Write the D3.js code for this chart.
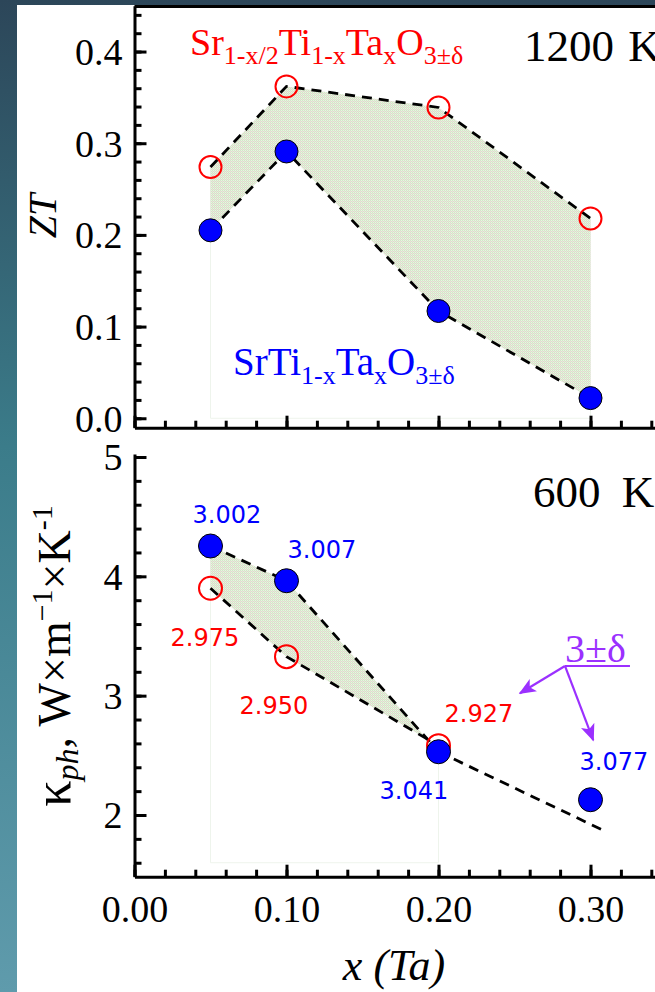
<!DOCTYPE html>
<html>
<head>
<meta charset="utf-8">
<script src="https://cdn.jsdelivr.net/npm/d3@7"></script>
<style>
  body { margin: 0; padding: 0; background: #fff; }
  svg { display: block; }
  .serif { font-family: "Liberation Serif", "Times New Roman", serif; }
  .sans { font-family: "DejaVu Sans", Verdana, sans-serif; }
</style>
</head>
<body>
<div id="chart"></div>
<script>
// ---- data ----
const xComp = [0.05, 0.10, 0.20, 0.30];           // Ta content x
const xTicks = [0, 0.1, 0.2, 0.3];
const xTickLabels = ["0.00", "0.10", "0.20", "0.30"];

// ZT at 1200 K
const ztDeficient = [0.274, 0.362, 0.339, 0.218];  // Sr1-x/2Ti1-xTaxO3 (red open)
const ztStoich = [0.205, 0.291, 0.117, 0.022];     // SrTi1-xTaxO3 (blue filled)
const ztTicks = [0, 0.1, 0.2, 0.3, 0.4];
const ztTickLabels = ["0.0", "0.1", "0.2", "0.3", "0.4"];

// kappa_ph at 600 K
const kDeficient = [3.900, 3.327, 2.581];          // x = 0.05, 0.10, 0.20
const kStoich = [4.254, 3.963, 2.530, 2.128];      // x = 0.05 .. 0.30
const kTicks = [2, 3, 4, 5];
const oxyDeficient = ["2.975", "2.950", "2.927"];
const oxyStoich = ["3.002", "3.007", "3.041", "3.077"];
const trendEnd = [0.308, 1.874];                   // dashed extension past x = 0.20

const W = 655, H = 992;
const svg = d3.select("#chart").append("svg")
    .attr("width", W)
    .attr("height", H);

const defs = svg.append("defs");

// dark photo-ish backdrop
const bg = defs.append("linearGradient").attr("id", "bg").attr("x1", 0).attr("y1", 0).attr("x2", 0).attr("y2", 1);
bg.append("stop").attr("offset", 0).attr("stop-color", "#2c4659");
bg.append("stop").attr("offset", 0.45).attr("stop-color", "#3b7c8a");
bg.append("stop").attr("offset", 1).attr("stop-color", "#5f9bac");
svg.append("rect").attr("width", W).attr("height", H).attr("fill", "url(#bg)");
svg.append("rect").attr("x", 17).attr("y", 5).attr("width", W - 17).attr("height", H - 5).attr("fill", "#fff");

// dithered green/pink fill
const pat = defs.append("pattern").attr("id", "dots")
    .attr("width", 2).attr("height", 2).attr("patternUnits", "userSpaceOnUse");
pat.append("rect").attr("width", 2).attr("height", 2).attr("fill", "#d2eac6");
pat.append("rect").attr("x", 1).attr("y", 0).attr("width", 1).attr("height", 1).attr("fill", "#e9f2e2");
pat.append("rect").attr("x", 0).attr("y", 1).attr("width", 1).attr("height", 1).attr("fill", "#f2d9e0");

// purple arrowhead
defs.append("marker").attr("id", "arrow")
    .attr("viewBox", "0 0 12 10").attr("refX", 11).attr("refY", 5)
    .attr("markerWidth", 8).attr("markerHeight", 6.5).attr("orient", "auto")
    .attr("markerUnits", "strokeWidth")
    .append("path").attr("d", "M0,0 L12,5 L0,10 L3,5 z").attr("fill", "#9b30ff");

// ---- scales ----
const x = d3.scaleLinear().domain([0, 0.35]).range([134.5, 666.5]);
const yZT = d3.scaleLinear().domain([-0.0103, 0.45]).range([427.7, 5.7]);
const yK = d3.scaleLinear().domain([1.483, 5.025]).range([876.7, 454]);

const AXW = 3;

function styleAxis(g) {
    g.selectAll(".domain").attr("stroke", "#000").attr("stroke-width", AXW);
    g.selectAll(".tick line").attr("stroke", "#000").attr("stroke-width", AXW);
    g.selectAll(".tick text")
        .attr("class", "serif")
        .attr("font-size", 38)
        .attr("fill", "#000");
}

function drawPanel(y, majorTicks, minorTicks, yFmt, bottomY, xLabels) {
    // minor ticks first
    svg.append("g")
        .attr("transform", `translate(${x(0)},0)`)
        .call(d3.axisLeft(y).tickValues(minorTicks).tickSize(-7).tickSizeOuter(0).tickFormat(""))
        .call(g => g.select(".domain").remove())
        .call(styleAxis);
    svg.append("g")
        .attr("transform", `translate(${x(0)},0)`)
        .call(d3.axisLeft(y).tickValues(majorTicks).tickSize(-12).tickSizeOuter(0).tickPadding(12).tickFormat(yFmt))
        .call(styleAxis)
        .call(g => g.selectAll(".tick text").attr("dy", "0.34em"));

    const xMinor = d3.range(0, 0.35, 0.02).map(v => +v.toFixed(2));
    svg.append("g")
        .attr("transform", `translate(0,${bottomY})`)
        .call(d3.axisBottom(x).tickValues(xMinor).tickSize(-7).tickSizeOuter(0).tickFormat(""))
        .call(g => g.select(".domain").remove())
        .call(styleAxis);
    svg.append("g")
        .attr("transform", `translate(0,${bottomY})`)
        .call(d3.axisBottom(x).tickValues(xTicks).tickSize(-12).tickSizeOuter(0).tickPadding(18)
            .tickFormat((d, i) => xLabels ? xLabels[i] : ""))
        .call(styleAxis)
        .call(g => g.selectAll(".tick text").attr("dy", "0.71em"));
}

// ---- top panel: ZT ----
const ztPts = (arr) => arr.map((v, i) => [x(xComp[i]), yZT(v)]);
const redTop = ztPts(ztDeficient), blueTop = ztPts(ztStoich);

// faint outline of the filled region down to baseline
svg.append("path")
    .attr("d", `M${x(0.05)},${yZT(ztDeficient[0])} V${yZT(0)} H${x(0.30)} V${yZT(ztDeficient[3])}`)
    .attr("fill", "none").attr("stroke", "#eef4ec").attr("stroke-width", 1);

svg.append("path")
    .attr("d", d3.line()(redTop.concat(blueTop.slice().reverse())) + "Z")
    .attr("fill", "url(#dots)");

const dash = "10,7";
const dashW = 2.8;
[redTop, blueTop].forEach(p => {
    svg.append("path").attr("d", d3.line()(p))
        .attr("fill", "none").attr("stroke", "#000").attr("stroke-width", dashW)
        .attr("stroke-dasharray", dash);
});

drawPanel(yZT, ztTicks, d3.range(0, 0.45, 0.02).map(v => +v.toFixed(2)),
    (d, i) => ztTickLabels[i], 427.7, null);
// top frame line
svg.append("line").attr("x1", x(0)).attr("x2", W).attr("y1", 6.5).attr("y2", 6.5)
    .attr("stroke", "#000").attr("stroke-width", AXW);

svg.selectAll(".redTop").data(redTop).join("circle")
    .attr("cx", d => d[0]).attr("cy", d => d[1]).attr("r", 11)
    .attr("fill", "none").attr("stroke", "#ff0000").attr("stroke-width", 2);
svg.selectAll(".blueTop").data(blueTop).join("circle")
    .attr("cx", d => d[0]).attr("cy", d => d[1]).attr("r", 11.5)
    .attr("fill", "#0000ff").attr("stroke", "#000").attr("stroke-width", 1);

// formula labels
function formula(parts, xPos, yPos, color, big, small) {
    const t = svg.append("text").attr("class", "serif")
        .attr("x", xPos).attr("y", yPos).attr("fill", color).attr("font-size", big);
    let low = false;
    parts.forEach(([s, sub]) => {
        const dy = sub && !low ? 9 : (!sub && low ? -9 : 0);
        low = sub;
        t.append("tspan").attr("dy", dy).attr("font-size", sub ? small : big).text(s);
    });
}
formula([["Sr", false], ["1-x/2", true], ["Ti", false], ["1-x", true], ["Ta", false], ["x", true], ["O", false], ["3±δ", true]],
    190, 55, "#ff0000", 38, 26);
formula([["SrTi", false], ["1-x", true], ["Ta", false], ["x", true], ["O", false], ["3±δ", true]],
    233, 375, "#0000ff", 39, 26);

function tempLabel(xPos, yPos, num, gap) {
    const t = svg.append("text").attr("class", "serif").attr("x", xPos).attr("y", yPos)
        .attr("font-size", 45);
    t.append("tspan").text(num);
    t.append("tspan").attr("dx", gap).text(" K");
}
tempLabel(524, 61, "1200", 3);
tempLabel(533, 507, "600", 10);

// ZT axis title
svg.append("text").attr("class", "serif")
    .attr("transform", `translate(56,216) rotate(-90)`)
    .attr("text-anchor", "middle").attr("font-size", 40).attr("font-style", "italic")
    .text("ZT");

// ---- bottom panel: kappa_ph ----
const redBot = kDeficient.map((v, i) => [x(xComp[i]), yK(v)]);
const blueBot = kStoich.map((v, i) => [x(xComp[i]), yK(v)]);

svg.append("path")
    .attr("d", `M${x(0.05)},${yK(kStoich[0])} V${yK(1.6)} H${x(0.20)} V${yK(kStoich[2])}`)
    .attr("fill", "none").attr("stroke", "#eef4ec").attr("stroke-width", 1);

svg.append("path")
    .attr("d", d3.line()(blueBot.slice(0, 3).concat(redBot.slice().reverse())) + "Z")
    .attr("fill", "url(#dots)");

[redBot, blueBot.slice(0, 3), [blueBot[2], [x(trendEnd[0]), yK(trendEnd[1])]]].forEach(p => {
    svg.append("path").attr("d", d3.line()(p))
        .attr("fill", "none").attr("stroke", "#000").attr("stroke-width", dashW)
        .attr("stroke-dasharray", dash);
});

drawPanel(yK, kTicks, d3.range(1.6, 5.01, 0.2).map(v => +v.toFixed(1)),
    d => d3.format("d")(d), 876.7, xTickLabels);

svg.selectAll(".redBot").data(redBot).join("circle")
    .attr("cx", d => d[0]).attr("cy", d => d[1]).attr("r", 11.5)
    .attr("fill", "none").attr("stroke", "#ff0000").attr("stroke-width", 2);
svg.selectAll(".blueBot").data(blueBot).join("circle")
    .attr("cx", d => d[0]).attr("cy", d => d[1]).attr("r", 12)
    .attr("fill", "#0000ff").attr("stroke", "#000").attr("stroke-width", 1);

// oxygen content labels (offsets from each point)
const redOff = [[-40, 58], [-47, 57], [6, -24]];
const blueOff = [[-18, -23], [1, -23], [-59, 47], [-11, -30]];
svg.selectAll(".lblRed").data(oxyDeficient).join("text")
    .attr("class", "sans").attr("font-size", 24).attr("fill", "#ff0000")
    .attr("x", (d, i) => redBot[i][0] + redOff[i][0])
    .attr("y", (d, i) => redBot[i][1] + redOff[i][1])
    .text(d => d);
svg.selectAll(".lblBlue").data(oxyStoich).join("text")
    .attr("class", "sans").attr("font-size", 24).attr("fill", "#0000ff")
    .attr("x", (d, i) => blueBot[i][0] + blueOff[i][0])
    .attr("y", (d, i) => blueBot[i][1] + blueOff[i][1])
    .text(d => d);

// 3±δ callout
const purple = "#9b30ff";
const origin = [x(0.2832), yK(3.249)];
svg.append("text").attr("class", "serif").attr("x", origin[0]).attr("y", origin[1] - 4)
    .attr("font-size", 40).attr("fill", purple).text("3±δ");
svg.append("line").attr("x1", origin[0]).attr("x2", origin[0] + 65)
    .attr("y1", origin[1]).attr("y2", origin[1])
    .attr("stroke", purple).attr("stroke-width", 2);
[[0.2536, 3.020], [0.3018, 2.628]].forEach(([ax, ay]) => {
    svg.append("line")
        .attr("x1", origin[0]).attr("y1", origin[1])
        .attr("x2", x(ax)).attr("y2", yK(ay))
        .attr("stroke", purple).attr("stroke-width", 2.2)
        .attr("marker-end", "url(#arrow)");
});

// kappa axis title
const kt = svg.append("text").attr("class", "serif")
    .attr("transform", `translate(70,656) rotate(-90)`)
    .attr("text-anchor", "middle").attr("font-size", 46);
kt.append("tspan").attr("font-size", 52).text("κ");
kt.append("tspan").attr("font-style", "italic").attr("font-size", 32).attr("dy", 8).text("ph");
kt.append("tspan").attr("dy", -8).text(", ");
kt.append("tspan").text("W×m");
kt.append("tspan").attr("font-size", 30).attr("dy", -18).text("−1");
kt.append("tspan").attr("dy", 18).text("×K");
kt.append("tspan").attr("font-size", 30).attr("dy", -18).text("-1");

// x axis title
svg.append("text").attr("class", "serif")
    .attr("x", 394).attr("y", 980)
    .attr("text-anchor", "middle").attr("font-size", 44).attr("font-style", "italic")
    .text("x (Ta)");
</script>
</body>
</html>
